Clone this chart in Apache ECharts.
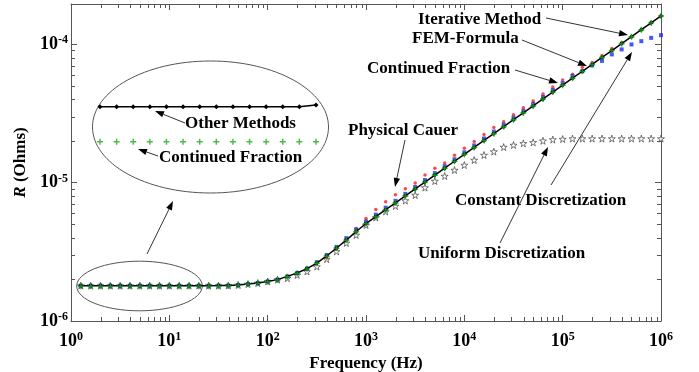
<!DOCTYPE html>
<html><head><meta charset="utf-8">
<script src="https://cdn.jsdelivr.net/npm/echarts@6/dist/echarts.min.js"></script>
<style>html,body{margin:0;padding:0;background:#fff}#c{width:699px;height:372px}</style>
</head><body><div id="c"></div><script>
// ---- data ----
const freq = [1.259,1.585,1.995,2.512,3.162,3.981,5.012,6.310,7.943,10,
  12.59,15.85,19.95,25.12,31.62,39.81,50.12,63.10,79.43,100,
  125.9,158.5,199.5,251.2,316.2,398.1,501.2,631.0,794.3,1000,
  1259,1585,1995,2512,3162,3981,5012,6310,7943,10000,
  12589,15849,19953,25119,31623,39811,50119,63096,79433,100000,
  125893,158489,199526,251189,316228,398107,501187,630957,794328,1000000];
const iterativeMethod = [1.80e-6,1.80e-6,1.80e-6,1.80e-6,1.80e-6,1.80e-6,1.80e-6,1.80e-6,1.80e-6,1.80e-6,
  1.80e-6,1.80e-6,1.80e-6,1.801e-6,1.802e-6,1.804e-6,1.82e-6,1.85e-6,1.88e-6,1.93e-6,
  1.99e-6,2.10e-6,2.22e-6,2.39e-6,2.62e-6,2.95e-6,3.37e-6,3.84e-6,4.43e-6,5.06e-6,
  5.68e-6,6.37e-6,7.14e-6,8.02e-6,8.99e-6,1.009e-5,1.132e-5,1.271e-5,1.426e-5,1.600e-5,
  1.795e-5,2.014e-5,2.26e-5,2.535e-5,2.845e-5,3.19e-5,3.58e-5,4.02e-5,4.51e-5,5.06e-5,
  5.68e-5,6.37e-5,7.14e-5,8.02e-5,8.99e-5,1.009e-4,1.132e-4,1.271e-4,1.426e-4,1.600e-4];
const continuedFraction = [1.78e-6,1.78e-6,1.78e-6,1.78e-6,1.78e-6,1.78e-6,1.78e-6,1.78e-6,1.78e-6,1.78e-6,
  1.78e-6,1.78e-6,1.78e-6,1.78e-6,1.78e-6,1.79e-6,1.81e-6,1.84e-6,1.87e-6,1.92e-6,
  1.98e-6,2.09e-6,2.21e-6,2.38e-6,2.61e-6,2.94e-6,3.36e-6,3.83e-6,4.42e-6,5.05e-6,
  5.66e-6,6.35e-6,7.12e-6,8.00e-6,8.97e-6,1.007e-5,1.130e-5,1.268e-5,1.423e-5,1.597e-5,
  1.792e-5,2.010e-5,2.256e-5,2.530e-5,2.840e-5,3.185e-5,3.574e-5,4.013e-5,4.503e-5,5.052e-5,
  5.671e-5,6.360e-5,7.129e-5,8.008e-5,8.977e-5,1.0075e-4,1.1303e-4,1.2691e-4,1.4239e-4,1.5976e-4];
const physicalCauer = [1.80e-6,1.80e-6,1.80e-6,1.80e-6,1.80e-6,1.80e-6,1.80e-6,1.80e-6,1.80e-6,1.80e-6,
  1.80e-6,1.80e-6,1.80e-6,1.80e-6,1.80e-6,1.804e-6,1.82e-6,1.85e-6,1.88e-6,1.93e-6,
  1.99e-6,2.10e-6,2.22e-6,2.39e-6,2.62e-6,2.85e-6,3.31e-6,3.91e-6,4.66e-6,5.50e-6,
  6.38e-6,7.27e-6,8.15e-6,9.01e-6,9.93e-6,1.133e-5,1.271e-5,1.382e-5,1.576e-5,1.768e-5,
  1.983e-5,2.225e-5,2.497e-5,2.756e-5,3.093e-5,3.468e-5,3.891e-5,4.370e-5,4.902e-5,5.500e-5,
  6.072e-5,6.810e-5,7.383e-5,8.293e-5,9.296e-5,1.026e-4,1.132e-4,1.271e-4,1.426e-4,1.600e-4];
const constantDiscretization = [1.80e-6,1.80e-6,1.80e-6,1.80e-6,1.80e-6,1.80e-6,1.80e-6,1.80e-6,1.80e-6,1.80e-6,
  1.80e-6,1.80e-6,1.80e-6,1.80e-6,1.80e-6,1.804e-6,1.82e-6,1.85e-6,1.88e-6,1.93e-6,
  1.99e-6,2.10e-6,2.22e-6,2.39e-6,2.66e-6,3.00e-6,3.43e-6,3.97e-6,4.58e-6,5.23e-6,
  5.87e-6,6.59e-6,7.38e-6,8.29e-6,9.30e-6,1.043e-5,1.170e-5,1.314e-5,1.474e-5,1.654e-5,
  1.856e-5,2.082e-5,2.337e-5,2.621e-5,2.942e-5,3.298e-5,3.702e-5,4.157e-5,4.663e-5,5.232e-5,
  5.873e-5,6.37e-5,7.02e-5,7.57e-5,8.43e-5,9.16e-5,9.95e-5,1.051e-4,1.11e-4,1.161e-4];
const uniformDiscretization = [1.80e-6,1.80e-6,1.80e-6,1.80e-6,1.80e-6,1.80e-6,1.80e-6,1.80e-6,1.80e-6,1.80e-6,
  1.80e-6,1.80e-6,1.80e-6,1.80e-6,1.80e-6,1.804e-6,1.82e-6,1.85e-6,1.88e-6,1.93e-6,
  1.99e-6,2.04e-6,2.15e-6,2.28e-6,2.47e-6,2.80e-6,3.18e-6,3.66e-6,4.18e-6,4.93e-6,
  5.59e-6,6.18e-6,6.77e-6,7.41e-6,8.12e-6,9.20e-6,1.025e-5,1.114e-5,1.231e-5,1.338e-5,
  1.454e-5,1.580e-5,1.674e-5,1.804e-5,1.866e-5,1.919e-5,1.951e-5,2.004e-5,2.044e-5,2.061e-5,
  2.078e-5,2.078e-5,2.078e-5,2.078e-5,2.078e-5,2.078e-5,2.078e-5,2.078e-5,2.078e-5,2.078e-5];
const xTickValues = [1,10,100,1e3,1e4,1e5,1e6];
const yTickValues = [1e-6,1e-5,1e-4];
const X_MIN = 1, X_MAX = 1e6, Y_MIN = 1e-6, Y_MAX = 1.95e-4;
const INSET_N = 14;

// ---- rendering ----
const FONT = "'Liberation Serif', 'Times New Roman', serif";
const AX = '#555';
const chart = echarts.init(document.getElementById('c'), null, {renderer: 'canvas'});

function powLabel(v) {
  const l = Math.log10(v), e = Math.round(l);
  if (Math.abs(l - e) > 1e-6) return '';
  return '{b|10}{s|' + e + '}';
}
const labelRich = {
  b: {fontFamily: FONT, fontWeight: 'bold', fontSize: 18, color: '#000', lineHeight: 20},
  s: {fontFamily: FONT, fontWeight: 'bold', fontSize: 12, color: '#000', lineHeight: 12, verticalAlign: 'top'}
};

const xMinor = [], yMinor = [];
for (let n = 0; n < 6; n++) for (let k = 2; k <= 9; k++) xMinor.push([k * Math.pow(10, n), Y_MIN, 0]);
for (let n = -6; n < -3; n++) for (let k = 2; k <= 9; k++) { const v = k * Math.pow(10, n); if (v < Y_MAX) yMinor.push([X_MIN, v, 1]); }

const pair = arr => freq.map((f, i) => [f, arr[i]]);
const STAR = 'path://M50,0 L61,35 L98,35 L68,57 L79,91 L50,70 L21,91 L32,57 L2,35 L39,35 Z';
const PLUS = 'path://M38,0 H62 V38 H100 V62 H62 V100 H38 V62 H0 V38 H38 Z';

function arrow(x1, y1, x2, y2) {
  const a = Math.atan2(y2 - y1, x2 - x1), L = 9, W = 3.2;
  const bx = x2 - L * Math.cos(a), by = y2 - L * Math.sin(a);
  const px = -Math.sin(a) * W, py = Math.cos(a) * W;
  return [
    {type: 'line', shape: {x1, y1, x2: bx, y2: by}, style: {stroke: '#333', lineWidth: 1}},
    {type: 'polygon', shape: {points: [[x2, y2], [bx + px, by + py], [bx - px, by - py]]}, style: {fill: '#000'}}
  ];
}
function label(text, x, y) {
  return {type: 'text', x, y, style: {text, font: 'bold 17px ' + FONT, fill: '#000', textAlign: 'left', textVerticalAlign: 'middle'}};
}

const graphics = [
  {type: 'ellipse', shape: {cx: 139.5, cy: 286, rx: 62.8, ry: 24.8}, style: {fill: 'none', stroke: '#555', lineWidth: 1}},
  {type: 'ellipse', shape: {cx: 210.5, cy: 127, rx: 118, ry: 66}, style: {fill: 'none', stroke: '#555', lineWidth: 1}},
  label('Iterative Method', 418, 20),
  label('FEM-Formula', 412, 39),
  label('Continued Fraction', 367, 69),
  label('Physical Cauer', 348, 131),
  label('Constant Discretization', 455, 201),
  label('Uniform Discretization', 418, 254),
  label('Other Methods', 185, 124),
  label('Continued Fraction', 159, 158),
  ...arrow(546, 18, 628, 35),
  ...arrow(522, 40, 587, 66),
  ...arrow(515, 70, 558, 83),
  ...arrow(405, 140, 395, 187),
  ...arrow(551, 185, 632, 52),
  ...arrow(500, 243, 548, 147),
  ...arrow(185, 123, 155, 111),
  ...arrow(158, 156, 138, 149),
  ...arrow(147, 254, 173, 201)
];

const mainX = {
  type: 'log', logBase: 10, min: X_MIN, max: X_MAX, gridIndex: 0,
  axisLine: {show: true, lineStyle: {color: AX, width: 1}},
  axisTick: {show: true, inside: true, length: 6, lineStyle: {color: AX}},
  splitLine: {show: false}, minorTick: {show: false}
};
const mainY = {
  type: 'log', logBase: 10, min: Y_MIN, max: Y_MAX, gridIndex: 0,
  axisLine: {show: true, lineStyle: {color: AX, width: 1}},
  axisTick: {show: true, inside: true, length: 6, lineStyle: {color: AX}},
  splitLine: {show: false}, minorTick: {show: false}
};

chart.setOption({
  animation: false,
  backgroundColor: '#fff',
  grid: [
    {left: 71, right: 38, top: 4, bottom: 51, outerBoundsMode: 'none', containLabel: false},
    {left: 100, top: 100, width: 216, height: 50, outerBoundsMode: 'none', containLabel: false}
  ],
  xAxis: [
    Object.assign({}, mainX, {
      position: 'bottom',
      axisLabel: {formatter: powLabel, rich: labelRich, margin: 10, showMaxLabel: true, showMinLabel: true},
      name: 'Frequency (Hz)', nameLocation: 'middle', nameGap: 23,
      nameTextStyle: {fontFamily: FONT, fontWeight: 'bold', fontSize: 17, color: '#000'}
    }),
    Object.assign({}, mainX, {position: 'top', axisLabel: {show: false}}),
    {type: 'log', gridIndex: 1, min: freq[0], max: freq[INSET_N - 1], show: false}
  ],
  yAxis: [
    Object.assign({}, mainY, {
      position: 'left',
      axisLabel: {formatter: powLabel, rich: labelRich, margin: 3, showMaxLabel: false},
      name: '{i|R} (Ohms)', nameLocation: 'middle', nameGap: 31,
      nameTextStyle: {fontFamily: FONT, fontWeight: 'bold', fontSize: 17, color: '#000',
        rich: {i: {fontFamily: FONT, fontWeight: 'bold', fontStyle: 'italic', fontSize: 17, color: '#000'}}}
    }),
    Object.assign({}, mainY, {position: 'right', axisLabel: {show: false}}),
    {type: 'value', gridIndex: 1, min: 1.77526e-6, max: 1.80383e-6, show: false, scale: true}
  ],
  graphic: graphics,
  series: [
    {
      type: 'custom', xAxisIndex: 0, yAxisIndex: 0, silent: true, clip: false, z: 5,
      data: xMinor.concat(yMinor),
      renderItem: function (params, api) {
        const kind = api.value(2);
        const st = {stroke: AX, lineWidth: 1};
        if (kind === 0) {
          const p = api.coord([api.value(0), Y_MIN]);
          const q = api.coord([api.value(0), Y_MAX]);
          const x = Math.round(p[0]) + 0.5;
          return {type: 'group', children: [
            {type: 'line', shape: {x1: x, y1: p[1], x2: x, y2: p[1] - 4}, style: st},
            {type: 'line', shape: {x1: x, y1: q[1], x2: x, y2: q[1] + 4}, style: st}
          ]};
        } else {
          const p = api.coord([X_MIN, api.value(1)]);
          const q = api.coord([X_MAX, api.value(1)]);
          const y = Math.round(p[1]) + 0.5;
          return {type: 'group', children: [
            {type: 'line', shape: {x1: p[0], y1: y, x2: p[0] + 4, y2: y}, style: st},
            {type: 'line', shape: {x1: q[0], y1: y, x2: q[0] - 4, y2: y}, style: st}
          ]};
        }
      }
    },
    {name: 'Uniform Discretization', type: 'scatter', data: pair(uniformDiscretization), symbol: STAR, symbolSize: 7,
      itemStyle: {color: '#fff', borderColor: '#444', borderWidth: 0.9}, z: 2},
    {name: 'Physical Cauer', type: 'scatter', data: pair(physicalCauer), symbol: 'circle', symbolSize: 3.5,
      itemStyle: {color: '#ff1a1a'}, z: 3},
    {name: 'Constant Discretization', type: 'scatter', data: pair(constantDiscretization), symbol: 'rect', symbolSize: 4,
      itemStyle: {color: '#1a2cff'}, z: 3},
    {name: 'Iterative Method', type: 'line', data: pair(iterativeMethod), symbol: 'diamond', symbolSize: 5,
      showAllSymbol: true, lineStyle: {color: '#000', width: 1.5}, itemStyle: {color: '#000'}, z: 4},
    {name: 'Continued Fraction', type: 'scatter', data: pair(continuedFraction), symbol: PLUS, symbolSize: 6,
      itemStyle: {color: '#1faa1f'}, z: 5},
    // inset (zoom of the first points)
    {type: 'line', xAxisIndex: 2, yAxisIndex: 2, data: pair(iterativeMethod).slice(0, INSET_N), symbol: 'diamond', symbolSize: 5,
      showAllSymbol: true, lineStyle: {color: '#000', width: 1.5}, itemStyle: {color: '#000'}, z: 4},
    {type: 'scatter', xAxisIndex: 2, yAxisIndex: 2, data: pair(continuedFraction).slice(0, INSET_N), symbol: PLUS, symbolSize: 6,
      itemStyle: {color: '#1faa1f'}, z: 5}
  ]
});
</script></body></html>
